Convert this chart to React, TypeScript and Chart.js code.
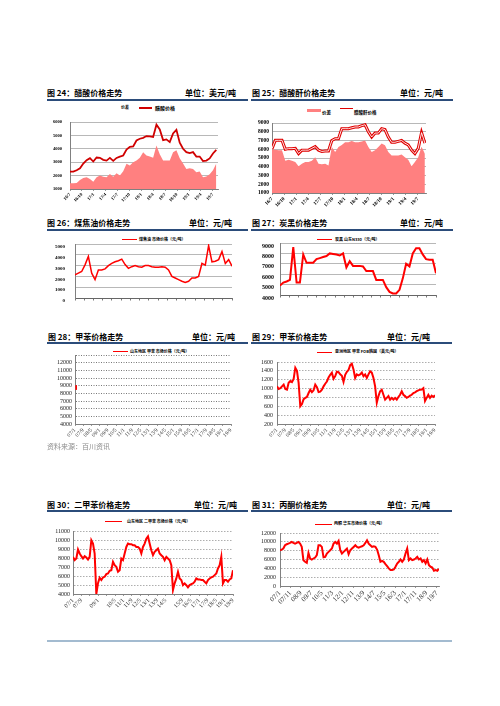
import React, { useEffect, useRef } from "react";
import { Chart, registerables } from "chart.js";

Chart.register(...registerables);

const CJK = '"Noto Sans CJK SC", "Noto Sans", sans-serif';
const SERIF = '"Liberation Serif", "DejaVu Serif", serif';

/* ---------- 图24 醋酸价格走势 (美元/吨) ---------- */
const c24TickLabels = ["16/7", "16/10", "17/1", "17/4", "17/7", "17/10", "18/1", "18/4", "18/7", "18/10", "19/1", "19/4", "19/7"];
const c24TickStep = 3;
const c24SampleStep = 0.838;
const c24AxisMax = 37.3;
const c24Price = [2300, 2300, 2400, 2550, 2900, 3150, 3300, 3050, 3350, 3330, 3180, 3120, 3320, 3100, 3320, 3420, 3500, 3950, 4150, 4180, 4620, 4750, 4820, 4950, 4920, 4880, 5800, 5450, 4650, 4700, 4500, 5150, 5420, 4450, 4000, 3750, 3680, 3750, 3420, 3420, 3080, 3120, 3280, 3650, 3920];
const c24Spread = [1420, 1420, 1450, 1680, 1820, 1880, 1750, 1550, 1880, 2000, 1920, 1880, 2120, 1920, 2180, 2000, 2330, 2880, 2750, 3000, 3130, 3330, 3750, 3500, 3430, 3330, 4250, 3600, 3130, 3130, 3130, 3750, 3900, 3300, 2900, 2500, 2550, 2500, 2250, 2300, 1880, 1930, 2100, 2400, 2900];

/* ---------- 图25 醋酸酐价格走势 (元/吨) ---------- */
const c25TickLabels = ["16/7", "16/10", "17/1", "17/4", "17/7", "17/10", "18/1", "18/4", "18/7", "18/10", "19/1", "19/4", "19/7"];
const c25TickStep = 3;
const c25SampleStep = 0.82;
const c25AxisMax = 38;
const c25Price = [6070, 7020, 7020, 7020, 6000, 6070, 6070, 6100, 5500, 5900, 5900, 5900, 6100, 6300, 5900, 5750, 5800, 5800, 7000, 7200, 7200, 8350, 8350, 8350, 8450, 8550, 8550, 8700, 8800, 8000, 7400, 7850, 7850, 8350, 8250, 7400, 6800, 6800, 6900, 7000, 6700, 6500, 5900, 5500, 6100, 7900, 6700];
const c25Spread = [6000, 5950, 5900, 5900, 4700, 4800, 4700, 4550, 4050, 4350, 4550, 4550, 4700, 5100, 4350, 4300, 4350, 4150, 6250, 5700, 6250, 6500, 6800, 6800, 6950, 6800, 6800, 6900, 7000, 6250, 5700, 5900, 6250, 6650, 6450, 5700, 5300, 5300, 5300, 5400, 5100, 4800, 4050, 4550, 5100, 6300, 5500];

/* ---------- 图26 煤焦油价格走势 ---------- */
const c26TickCount = 18;
const c26Values = [2150, 2300, 2450, 3070, 3850, 2300, 1700, 2600, 2600, 2700, 3000, 3200, 3350, 3450, 3600, 3100, 2750, 2900, 3000, 2900, 2850, 3000, 3000, 2900, 2850, 2850, 2900, 2850, 2600, 2000, 1850, 1700, 1550, 1450, 1550, 1850, 1850, 2000, 3200, 3050, 4850, 3350, 3400, 3550, 4300, 3200, 3550, 2950];

/* ---------- 图27 炭黑价格走势 ---------- */
const c27TickCount = 18;
const c27Values = [4900, 5200, 5300, 5450, 8600, 5200, 5200, 7900, 7100, 7100, 7100, 7450, 7550, 7650, 7750, 8000, 7950, 7900, 7800, 8000, 6650, 7250, 6800, 6800, 6800, 6750, 6300, 6300, 6300, 5450, 5450, 5450, 4750, 4300, 4150, 4150, 4500, 5600, 7000, 6750, 8000, 8500, 8500, 7900, 7450, 7400, 7400, 6100];

/* ---------- 图28 甲苯价格走势 ---------- */
const longTickLabels = ["07/1", "07/9", "08/5", "09/1", "09/9", "10/5", "11/1", "11/9", "12/5", "13/1", "13/9", "14/5", "15/1", "15/9", "16/5", "17/1", "17/9", "18/5", "19/1", "19/9"];
const longTickStep = 8;
const longAxisMax = 152;
const c28Months = [1, 1.2];
const c28Values = [9050, 8450];

/* ---------- 图29 甲苯价格走势 ---------- */
const c29SampleStep = 1.6;
const c29Values = [1050, 990, 1010, 1050, 1090, 990, 975, 1130, 1170, 1145, 1220, 1470, 1400, 1130, 600, 650, 760, 790, 810, 900, 975, 920, 960, 1090, 1030, 920, 930, 975, 1050, 1110, 1160, 1250, 1310, 1360, 1220, 1280, 1380, 1370, 1320, 1290, 1150, 1310, 1380, 1420, 1530, 1560, 1430, 1240, 1320, 1300, 1320, 1360, 1280, 1320, 1240, 1320, 1390, 1360, 1240, 1050, 680, 830, 940, 975, 860, 750, 790, 830, 750, 790, 750, 790, 750, 810, 860, 940, 860, 830, 790, 810, 840, 860, 900, 915, 940, 960, 975, 980, 1010, 720, 790, 860, 790, 840, 810, 850];

/* ---------- 图30 二甲苯价格走势 ---------- */
const c30TickLabels = ["07/1", "07/9", "", "09/1", "", "10/5", "11/1", "11/9", "12/5", "13/1", "13/9", "14/5", "", "15/9", "16/5", "17/1", "17/9", "18/5", "19/1", "19/9"];
const c30SampleStep = 1.583;
const c30Values = [8130, 7760, 7940, 8940, 8500, 8200, 7940, 8200, 8050, 7830, 8130, 9970, 9600, 8500, 4000, 5200, 5800, 5550, 5840, 5920, 6210, 6280, 6580, 6650, 7570, 7200, 7020, 6470, 6650, 7940, 7760, 8500, 9230, 9600, 9530, 9530, 9420, 9420, 9230, 9230, 9050, 8500, 9230, 9600, 10150, 10400, 9600, 8860, 8310, 8680, 8860, 9050, 8500, 8310, 8130, 7760, 8130, 7940, 7760, 7200, 4440, 5180, 5730, 6470, 5730, 5550, 4990, 5180, 4990, 4740, 4990, 5100, 5180, 5360, 5730, 5620, 5620, 5550, 5550, 5360, 5180, 5550, 5730, 5840, 5920, 6100, 6280, 6840, 7200, 8130, 5180, 5550, 5550, 5360, 5620, 5730, 6650];

/* ---------- 图31 丙酮价格走势 ---------- */
const c31TickLabels = ["07/1", "07/11", "08/9", "09/7", "10/5", "11/3", "12/1", "12/11", "13/9", "14/7", "15/5", "16/3", "17/1", "17/11", "18/9", "19/7"];
const c31TickStep = 10;
const c31SampleStep = 1.6;
const c31Values = [8100, 8250, 8480, 9230, 9450, 9600, 9750, 9980, 9750, 9600, 9750, 9980, 9600, 8850, 5850, 5480, 5250, 7500, 6230, 6000, 6230, 6450, 6980, 9230, 9230, 8850, 6500, 6600, 7350, 7730, 8100, 8480, 9600, 9980, 9600, 10200, 8100, 7350, 7730, 8100, 8480, 7200, 8100, 8480, 8850, 9230, 8850, 8700, 8850, 9000, 9230, 9750, 10350, 9600, 9230, 8850, 9000, 8850, 8250, 6980, 5480, 5700, 5480, 4950, 4500, 3980, 3600, 3600, 3750, 4350, 5100, 5480, 6000, 5480, 6000, 7350, 8480, 5850, 6230, 5850, 6000, 6230, 6600, 6000, 6230, 5480, 5850, 5100, 6000, 4730, 4350, 4200, 3450, 3600, 3450, 3900];

/* ---------- helpers ---------- */
type Geo = { l: number; t: number; r: number; b: number; yW: number; xH: number };
const PAD_T = 6;
const PAD_R = 6;

const pts = (vals: number[], step: number) => vals.map((v, i) => ({ x: i * step, y: v }));
const ptsX = (xs: number[], vals: number[]) => vals.map((v, i) => ({ x: xs[i], y: v }));

function monthAxis(labels: string[], tickStep: number, max: number, font: any, color: string, pad = 1) {
  return {
    type: "linear",
    min: 0,
    max,
    afterBuildTicks: (s: any) => {
      s.ticks = labels.map((_, i) => ({ value: i * tickStep }));
    },
    ticks: {
      autoSkip: false,
      maxRotation: 45,
      minRotation: 45,
      padding: pad,
      font,
      color,
      callback: (_v: any, i: number) => labels[i],
    },
    grid: { display: true, drawOnChartArea: false, drawTicks: true, tickLength: 2, color: "#808080", lineWidth: 0.8 },
    border: { display: true, color: "#808080", width: 1 },
  };
}

function blankAxis(count: number, max: number) {
  return {
    type: "linear",
    min: 0,
    max,
    afterBuildTicks: (s: any) => {
      const ticks: any[] = [];
      for (let i = 0; i < count; i++) ticks.push({ value: (i * max) / (count - 1) });
      s.ticks = ticks;
    },
    ticks: { autoSkip: false, maxRotation: 0, minRotation: 0, callback: () => "", padding: 0 },
    grid: { display: true, drawOnChartArea: false, drawTicks: true, tickLength: 2.5, color: "#555", lineWidth: 0.8 },
    border: { display: true, color: "#666", width: 1 },
  };
}

function valueAxis(min: number, max: number, stepSize: number, pad: number, font: any, color: string, gridColor: string, dash: number[] = [], hideTop = false, labelOffset = 0) {
  return {
    type: "linear",
    min,
    max,
    afterBuildTicks: (s: any) => {
      const ticks: any[] = [];
      for (let v = min; v <= max + 1e-6; v += stepSize) ticks.push({ value: v });
      s.ticks = ticks;
    },
    ticks: {
      autoSkip: false,
      padding: pad,
      font,
      color,
      labelOffset,
      callback: (v: any) => (hideTop && v === max ? "" : String(v)),
    },
    grid: { color: gridColor, lineWidth: 0.8, drawTicks: false },
    border: { display: true, color: "#808080", width: 1, dash },
  };
}

function makeOptions(geo: Geo, x: any, y: any) {
  return {
    responsive: false,
    animation: false,
    events: [],
    layout: { padding: { top: PAD_T, right: PAD_R, left: 0, bottom: 0 } },
    plugins: { legend: { display: false }, tooltip: { enabled: false }, title: { display: false } },
    elements: { point: { radius: 0 }, line: { tension: 0 } },
    scales: {
      x: {
        ...x,
        afterFit: (s: any) => {
          s.height = geo.xH;
          s.paddingLeft = 0;
          s.paddingRight = 0;
        },
      },
      y: {
        ...y,
        afterFit: (s: any) => {
          s.width = geo.yW;
          s.paddingTop = 0;
          s.paddingBottom = 0;
        },
      },
    },
  };
}

function ChartBox({ geo, build }: { geo: Geo; build: () => any }) {
  const ref = useRef<HTMLCanvasElement | null>(null);
  const w = geo.r - geo.l + geo.yW + PAD_R;
  const h = geo.b - geo.t + PAD_T + geo.xH;
  useEffect(() => {
    const chart = new Chart(ref.current as HTMLCanvasElement, build());
    return () => chart.destroy();
  }, []);
  return (
    <canvas
      ref={ref}
      width={w}
      height={h}
      style={{ position: "absolute", left: geo.l - geo.yW, top: geo.t - PAD_T, width: w, height: h }}
    />
  );
}

/* ---------- geometry ---------- */
const g24: Geo = { l: 70, t: 122, r: 218, b: 189, yW: 24, xH: 18 };
const g25: Geo = { l: 272, t: 123, r: 426, b: 193, yW: 24, xH: 18 };
const g26: Geo = { l: 75, t: 244, r: 232, b: 298, yW: 26, xH: 8 };
const g27: Geo = { l: 280, t: 243, r: 436, b: 295, yW: 26, xH: 8 };
const g28: Geo = { l: 75, t: 355, r: 231, b: 424, yW: 26, xH: 18 };
const g29: Geo = { l: 277, t: 362, r: 435, b: 424, yW: 26, xH: 18 };
const g30: Geo = { l: 73, t: 531, r: 233, b: 594, yW: 26, xH: 22 };
const g31: Geo = { l: 280, t: 533, r: 439, b: 586, yW: 26, xH: 36 };

const boldSmall = (size: number) => ({ family: SERIF, size, weight: "bold" });
const plain = (size: number) => ({ family: SERIF, size });

const RED = "#FF0000";
const SALMON = "#FF8080";

const build24 = () => ({
  type: "line",
  data: {
    datasets: [
      { label: "醋酸价格", data: pts(c24Price, c24SampleStep), borderColor: "#D00000", borderWidth: 1.8, fill: false, order: 0 },
      { label: "价差", data: pts(c24Spread, c24SampleStep), borderWidth: 0, borderColor: SALMON, backgroundColor: SALMON, fill: "start", order: 1 },
    ],
  },
  options: makeOptions(
    g24,
    monthAxis(c24TickLabels, c24TickStep, c24AxisMax, boldSmall(4.5), "#000"),
    valueAxis(1000, 6000, 1000, 8, boldSmall(4.5), "#000", "#A6A6A6")
  ),
});

const build25 = () => ({
  type: "line",
  data: {
    datasets: [
      { label: "醋酸酐价格-inner", data: pts(c25Price, c25SampleStep), borderColor: "#FFFFFF", borderWidth: 0.9, fill: false, order: 0 },
      { label: "醋酸酐价格", data: pts(c25Price, c25SampleStep), borderColor: "#E00000", borderWidth: 3, fill: false, order: 1 },
      { label: "价差", data: pts(c25Spread, c25SampleStep), borderWidth: 0, borderColor: SALMON, backgroundColor: SALMON, fill: "start", order: 2 },
    ],
  },
  options: makeOptions(
    g25,
    monthAxis(c25TickLabels, c25TickStep, c25AxisMax, boldSmall(5), "#000"),
    valueAxis(1000, 9000, 1000, 3, boldSmall(5.5), "#000", "#A6A6A6")
  ),
});

const build26 = () => ({
  type: "line",
  data: {
    datasets: [{ label: "煤焦油", data: pts(c26Values, 1), borderColor: RED, borderWidth: 1.5, fill: false }],
  },
  options: makeOptions(
    g26,
    blankAxis(c26TickCount, c26Values.length - 1),
    valueAxis(0, 5000, 1000, 10, boldSmall(5), "#000", "#A6A6A6", [], false, 3)
  ),
});

const build27 = () => ({
  type: "line",
  data: {
    datasets: [{ label: "炭黑", data: pts(c27Values, 1), borderColor: RED, borderWidth: 2, fill: false }],
  },
  options: makeOptions(
    g27,
    blankAxis(c27TickCount, c27Values.length - 1),
    valueAxis(4000, 9000, 1000, 6, boldSmall(6), "#000", "#A6A6A6", [], false, 3)
  ),
});

const build28 = () => ({
  type: "line",
  data: {
    datasets: [{ label: "甲苯", data: ptsX(c28Months, c28Values), borderColor: RED, borderWidth: 1.5, fill: false }],
  },
  options: makeOptions(
    g28,
    monthAxis(longTickLabels, longTickStep, longAxisMax, plain(5.5), "#333"),
    valueAxis(4000, 13000, 1000, 3, plain(6), "#222", "#555", [1, 1.5], true)
  ),
});

const build29 = () => ({
  type: "line",
  data: {
    datasets: [{ label: "甲苯", data: pts(c29Values, c29SampleStep), borderColor: RED, borderWidth: 2, fill: false }],
  },
  options: makeOptions(
    g29,
    monthAxis(longTickLabels, longTickStep, longAxisMax, plain(5.5), "#333"),
    valueAxis(200, 1600, 200, 4, plain(6), "#222", "#999", [1.5, 1.5])
  ),
});

const build30 = () => ({
  type: "line",
  data: {
    datasets: [{ label: "二甲苯", data: pts(c30Values, c30SampleStep), borderColor: RED, borderWidth: 2, fill: false }],
  },
  options: makeOptions(
    g30,
    monthAxis(c30TickLabels, longTickStep, longAxisMax, plain(6), "#333"),
    valueAxis(4000, 11000, 1000, 3, plain(6), "#222", "#999", [1.5, 1.5])
  ),
});

const build31 = () => ({
  type: "line",
  data: {
    datasets: [{ label: "丙酮", data: pts(c31Values, c31SampleStep), borderColor: RED, borderWidth: 2, fill: false }],
  },
  options: makeOptions(
    g31,
    monthAxis(c31TickLabels, c31TickStep, longAxisMax, plain(7), "#333"),
    valueAxis(0, 12000, 2000, 4, plain(6), "#222", "#999", [1.5, 1.5])
  ),
});

/* ---------- page text ---------- */
type Hdr = { x: number; cy: number; title: string; unitEnd: number; unit: string; lineL: number; lineR: number; lineY: number };
const headers: Hdr[] = [
  { x: 47, cy: 93, title: "图 24：醋酸价格走势", unitEnd: 236, unit: "单位：美元/吨", lineL: 47, lineR: 248, lineY: 100 },
  { x: 252, cy: 93, title: "图 25：醋酸酐价格走势", unitEnd: 443, unit: "单位：元/吨", lineL: 251, lineR: 453, lineY: 100 },
  { x: 47, cy: 223, title: "图 26：煤焦油价格走势", unitEnd: 232, unit: "单位：元/吨", lineL: 47, lineR: 248, lineY: 230 },
  { x: 252, cy: 223, title: "图 27：炭黑价格走势", unitEnd: 443, unit: "单位：元/吨", lineL: 251, lineR: 453, lineY: 230 },
  { x: 48, cy: 337, title: "图 28：甲苯价格走势", unitEnd: 235, unit: "单位：元/吨", lineL: 47, lineR: 248, lineY: 343 },
  { x: 252, cy: 337, title: "图 29：甲苯价格走势", unitEnd: 430, unit: "单位：元/吨", lineL: 251, lineR: 452, lineY: 343 },
  { x: 47, cy: 505, title: "图 30：二甲苯价格走势", unitEnd: 237, unit: "单位：元/吨", lineL: 47, lineR: 248, lineY: 511 },
  { x: 252, cy: 505, title: "图 31：丙酮价格走势", unitEnd: 430, unit: "单位：元/吨", lineL: 251, lineR: 452, lineY: 511 },
];

function Text({ x, cy, size, text, color = "#000", bold = false, right }: { x?: number; cy: number; size: number; text: string; color?: string; bold?: boolean; right?: number }) {
  const style: any = {
    position: "absolute",
    top: cy - size * 0.65,
    height: size * 1.3,
    lineHeight: `${size * 1.3}px`,
    fontSize: size,
    fontFamily: CJK,
    fontWeight: bold ? 700 : 400,
    color,
    whiteSpace: "nowrap",
  };
  if (right !== undefined) style.right = 500 - right;
  else style.left = x;
  return <div style={style}>{text}</div>;
}

function Bar({ x1, x2, y, h, color }: { x1: number; x2: number; y: number; h: number; color: string }) {
  return <div style={{ position: "absolute", left: x1, top: y - h / 2, width: x2 - x1, height: h, background: color }} />;
}

export default function App() {
  return (
    <div style={{ position: "absolute", left: 0, top: 0, width: 500, height: 706, background: "#fff", overflow: "hidden" }}>
      {headers.map((h, i) => (
        <React.Fragment key={i}>
          <Text x={h.x} cy={h.cy} size={8} text={h.title} bold />
          <Text right={h.unitEnd} cy={h.cy} size={8} text={h.unit} bold />
          <Bar x1={h.lineL} x2={h.lineR} y={h.lineY} h={2} color="#2B4C7A" />
        </React.Fragment>
      ))}

      {/* legends */}
      <Text x={121} cy={108} size={4} text="价差" bold />
      <Bar x1={139} x2={152} y={108} h={1.5} color="#D00000" />
      <Text x={155} cy={108} size={5} text="醋酸价格" bold />

      <Bar x1={307} x2={321} y={110} h={3} color={SALMON} />
      <Text x={322} cy={112.5} size={4.5} text="价差" bold />
      <Bar x1={340} x2={353} y={109} h={2.6} color="#E00000" />
      <Bar x1={340} x2={353} y={109} h={0.8} color="#FFFFFF" />
      <Text x={354} cy={112.5} size={4.5} text="醋酸酐价格" bold />

      <Bar x1={122} x2={137} y={239.5} h={1} color={RED} />
      <Text x={139} cy={239.5} size={4} text="煤焦油 市场价格（元/吨）" bold />

      <Bar x1={317} x2={332} y={239.5} h={1} color={RED} />
      <Text x={335} cy={239.5} size={4} text="炭黑 山东N330（元/吨）" bold />

      <Bar x1={113} x2={128} y={351.5} h={1} color={RED} />
      <Text x={130} cy={351.5} size={4} text="山东地区 甲苯 市场价格（元/吨）" bold />

      <Bar x1={317} x2={332} y={352} h={1} color={RED} />
      <Text x={335} cy={352} size={4} text="亚洲地区 甲苯 FOB韩国（美元/吨）" bold />

      <Bar x1={105} x2={122} y={521.5} h={1} color={RED} />
      <Text x={127} cy={521.5} size={4} text="山东地区 二甲苯 市场价格（元/吨）" bold />

      <Bar x1={315} x2={332} y={524} h={1} color={RED} />
      <Text x={334} cy={524} size={4} text="丙酮 华东市场价格（元/吨）" bold />

      <ChartBox geo={g24} build={build24} />
      <ChartBox geo={g25} build={build25} />
      <ChartBox geo={g26} build={build26} />
      <ChartBox geo={g27} build={build27} />
      <ChartBox geo={g28} build={build28} />
      <ChartBox geo={g29} build={build29} />
      <ChartBox geo={g30} build={build30} />
      <ChartBox geo={g31} build={build31} />

      <Text x={47} cy={446.5} size={7} text="资料来源：百川资讯" color="#8C8C8C" />
      <Bar x1={47} x2={452} y={641} h={2} color="#A3BBD0" />
    </div>
  );
}
